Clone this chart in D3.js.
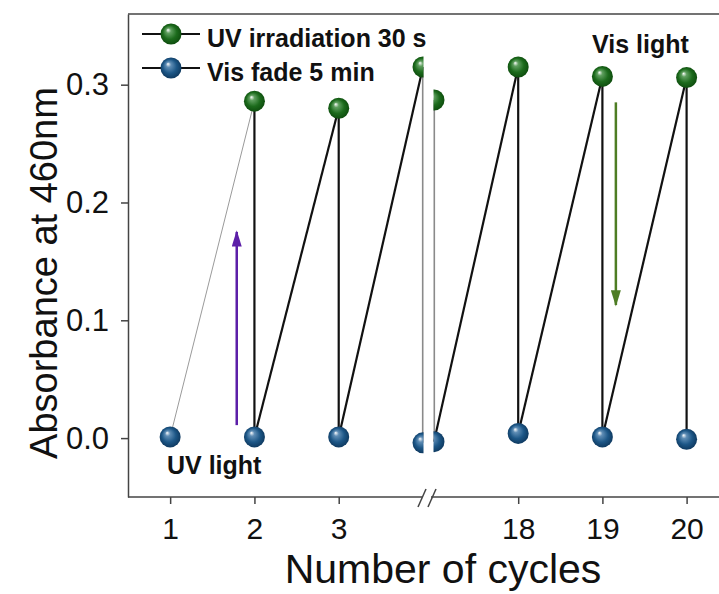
<!DOCTYPE html>
<html>
<head>
<meta charset="utf-8">
<script src="https://cdn.jsdelivr.net/npm/d3@7"></script>
<style>
  body { margin: 0; background: #fff; }
  text { font-family: "Liberation Sans", Arial, sans-serif; }
</style>
</head>
<body>
<div id="chart"></div>
<script>
// data
var cycles = [1, 2, 3, 4, 17, 18, 19, 20];
var uvAbs = [null, 0.286, 0.280, 0.315, 0.287, 0.315, 0.307, 0.306];
var visAbs = [0.001, 0.001, 0.001, -0.004, -0.003, 0.004, 0.001, -0.001];
var xTicksLeft = [1, 2, 3];
var xTicksRight = [18, 19, 20];
var yTicks = [0, 0.1, 0.2, 0.3];
var legendItems = ["UV irradiation 30 s", "Vis fade 5 min"];

var W = 719, H = 594;
var plotLeft = 128, plotTop = 14, plotBottom = 497;
var breakL = 423.5, breakR = 433.5;
var lastLeft = 4;

var svg = d3.select("#chart").append("svg")
    .attr("width", W)
    .attr("height", H);

// scales, one per side of the axis break
var xL = d3.scaleLinear().domain([0.5, 4]).range([plotLeft, 423]);
var xR = d3.scaleLinear().domain([17, 20.5]).range([434, 728.7]);
var y = d3.scaleLinear().domain([-0.05, 0.36]).range([plotBottom, plotTop]);
var xPos = function (c) { return c <= lastLeft ? xL(c) : xR(c); };

// sphere gradients
var defs = svg.append("defs");
function sphere(id, light, mid, dark) {
    var g = defs.append("radialGradient").attr("id", id)
        .attr("cx", "50%").attr("cy", "50%").attr("r", "55%")
        .attr("fx", "35%").attr("fy", "30%");
    g.append("stop").attr("offset", "0%").attr("stop-color", "#ffffff");
    g.append("stop").attr("offset", "22%").attr("stop-color", light);
    g.append("stop").attr("offset", "60%").attr("stop-color", mid);
    g.append("stop").attr("offset", "100%").attr("stop-color", dark);
}
sphere("gGreen", "#5f9f5f", "#1c6b1c", "#0b470b");
sphere("gBlue", "#5f8db5", "#1d5787", "#0c3459");

defs.append("clipPath").attr("id", "clipL").append("rect")
    .attr("x", plotLeft).attr("y", 0).attr("width", breakL - plotLeft).attr("height", plotBottom);
defs.append("clipPath").attr("id", "clipR").append("rect")
    .attr("x", breakR).attr("y", 0).attr("width", W - breakR).attr("height", plotBottom);

// arrow heads
function arrowHead(id, color) {
    defs.append("marker").attr("id", id)
        .attr("viewBox", "0 0 10 10").attr("refX", 9).attr("refY", 5)
        .attr("markerWidth", 6.5).attr("markerHeight", 4)
        .attr("orient", "auto").attr("preserveAspectRatio", "none")
        .append("path").attr("d", "M0,0 L10,5 L0,10 Z").attr("fill", color);
}
arrowHead("headUV", "#5c1fa8");
arrowHead("headVis", "#4e7d24");

// build the zigzag: green (after UV) then blue (after Vis) per cycle
var pts = [];
cycles.forEach(function (c, i) {
    if (uvAbs[i] !== null) pts.push({c: c, v: uvAbs[i], kind: "uv"});
    pts.push({c: c, v: visAbs[i], kind: "vis"});
});
var firstRight = cycles[cycles.indexOf(lastLeft) + 1];
var segs = [];
for (var i = 1; i < pts.length; i++) {
    var a = pts[i - 1], b = pts[i];
    var sideA = a.c <= lastLeft, sideB = b.c <= lastLeft;
    if (sideA !== sideB) continue;
    var edge = a.c === b.c && (a.c === lastLeft || a.c === firstRight);
    segs.push({a: a, b: b, side: sideA ? "L" : "R", first: i === 1, edge: edge});
}

var gL = svg.append("g").attr("clip-path", "url(#clipL)");
var gR = svg.append("g").attr("clip-path", "url(#clipR)");
var panel = function (s) { return s === "L" ? gL : gR; };

segs.forEach(function (s) {
    panel(s.side).append("line")
        .attr("x1", xPos(s.a.c)).attr("y1", y(s.a.v))
        .attr("x2", xPos(s.b.c)).attr("y2", y(s.b.v))
        .attr("stroke", s.first ? "#9a9a9a" : (s.edge ? "#8a8a8a" : "#111"))
        .attr("stroke-width", s.first ? 1 : 2.2);
});

pts.forEach(function (p) {
    panel(p.c <= lastLeft ? "L" : "R").append("circle")
        .attr("cx", xPos(p.c)).attr("cy", y(p.v)).attr("r", 10.5)
        .attr("fill", p.kind === "uv" ? "url(#gGreen)" : "url(#gBlue)");
});

// arrows
svg.append("line")
    .attr("x1", xL(1.79)).attr("y1", y(0.011))
    .attr("x2", xL(1.79)).attr("y2", y(0.175))
    .attr("stroke", "#5c1fa8").attr("stroke-width", 2.5)
    .attr("marker-end", "url(#headUV)");
svg.append("line")
    .attr("x1", xR(19.16)).attr("y1", y(0.285))
    .attr("x2", xR(19.16)).attr("y2", y(0.113))
    .attr("stroke", "#4e7d24").attr("stroke-width", 2.5)
    .attr("marker-end", "url(#headVis)");

// annotations
svg.append("text").attr("x", 167).attr("y", 474)
    .attr("font-size", 25).attr("font-weight", "bold").attr("fill", "#111")
    .text("UV light");
svg.append("text").attr("x", 592).attr("y", 53)
    .attr("font-size", 25).attr("font-weight", "bold").attr("fill", "#111")
    .text("Vis light");

// frame: top line
svg.append("line").attr("x1", plotLeft).attr("x2", W).attr("y1", plotTop).attr("y2", plotTop)
    .attr("stroke", "#444").attr("stroke-width", 1.5);

// y axis
var yAxis = svg.append("g")
    .attr("transform", "translate(" + plotLeft + ",0)")
    .call(d3.axisLeft(y).tickValues(yTicks).tickFormat(d3.format(".1f"))
        .tickSize(7).tickSizeOuter(0).tickPadding(12));
yAxis.selectAll("path, line").attr("stroke", "#444").attr("stroke-width", 1.5);
yAxis.selectAll("text").attr("font-size", 31).attr("fill", "#111")
    .style("font-family", "'Liberation Sans', Arial, sans-serif");

// x axis, two pieces around the break
function xAxisPart(scale, ticks) {
    var g = svg.append("g")
        .attr("transform", "translate(0," + plotBottom + ")")
        .call(d3.axisBottom(scale).tickValues(ticks).tickFormat(d3.format("d"))
            .tickSize(7).tickSizeOuter(0).tickPadding(14));
    g.select(".domain").remove();
    g.selectAll("line").attr("stroke", "#444").attr("stroke-width", 1.5);
    g.selectAll("text").attr("font-size", 30).attr("fill", "#111")
        .style("font-family", "'Liberation Sans', Arial, sans-serif");
}
xAxisPart(xL, xTicksLeft);
xAxisPart(xR, xTicksRight);
svg.append("line").attr("x1", plotLeft).attr("x2", 422).attr("y1", plotBottom).attr("y2", plotBottom)
    .attr("stroke", "#444").attr("stroke-width", 1.5);
svg.append("line").attr("x1", 431).attr("x2", W).attr("y1", plotBottom).attr("y2", plotBottom)
    .attr("stroke", "#444").attr("stroke-width", 1.5);
[418, 428].forEach(function (bx) {
    svg.append("line").attr("x1", bx).attr("y1", plotBottom + 10).attr("x2", bx + 8).attr("y2", plotBottom - 8)
        .attr("stroke", "#444").attr("stroke-width", 1.5);
});

// axis titles
svg.append("text").attr("x", 443).attr("y", 583)
    .attr("text-anchor", "middle").attr("font-size", 41).attr("fill", "#111")
    .text("Number of cycles");
svg.append("text")
    .attr("transform", "translate(57,273) rotate(-90)")
    .attr("text-anchor", "middle").attr("font-size", 38).attr("fill", "#111")
    .text("Absorbance at 460nm");

// legend
var leg = svg.append("g");
legendItems.forEach(function (name, i) {
    var ly = 34 + i * 34;
    leg.append("line").attr("x1", 142).attr("x2", 200).attr("y1", ly).attr("y2", ly)
        .attr("stroke", "#111").attr("stroke-width", 2);
    leg.append("circle").attr("cx", 171).attr("cy", ly).attr("r", 10.5)
        .attr("fill", i === 0 ? "url(#gGreen)" : "url(#gBlue)");
    leg.append("text").attr("x", 207).attr("y", ly + 13)
        .attr("font-size", 25).attr("font-weight", "bold").attr("fill", "#111")
        .text(name);
});
</script>
</body>
</html>
